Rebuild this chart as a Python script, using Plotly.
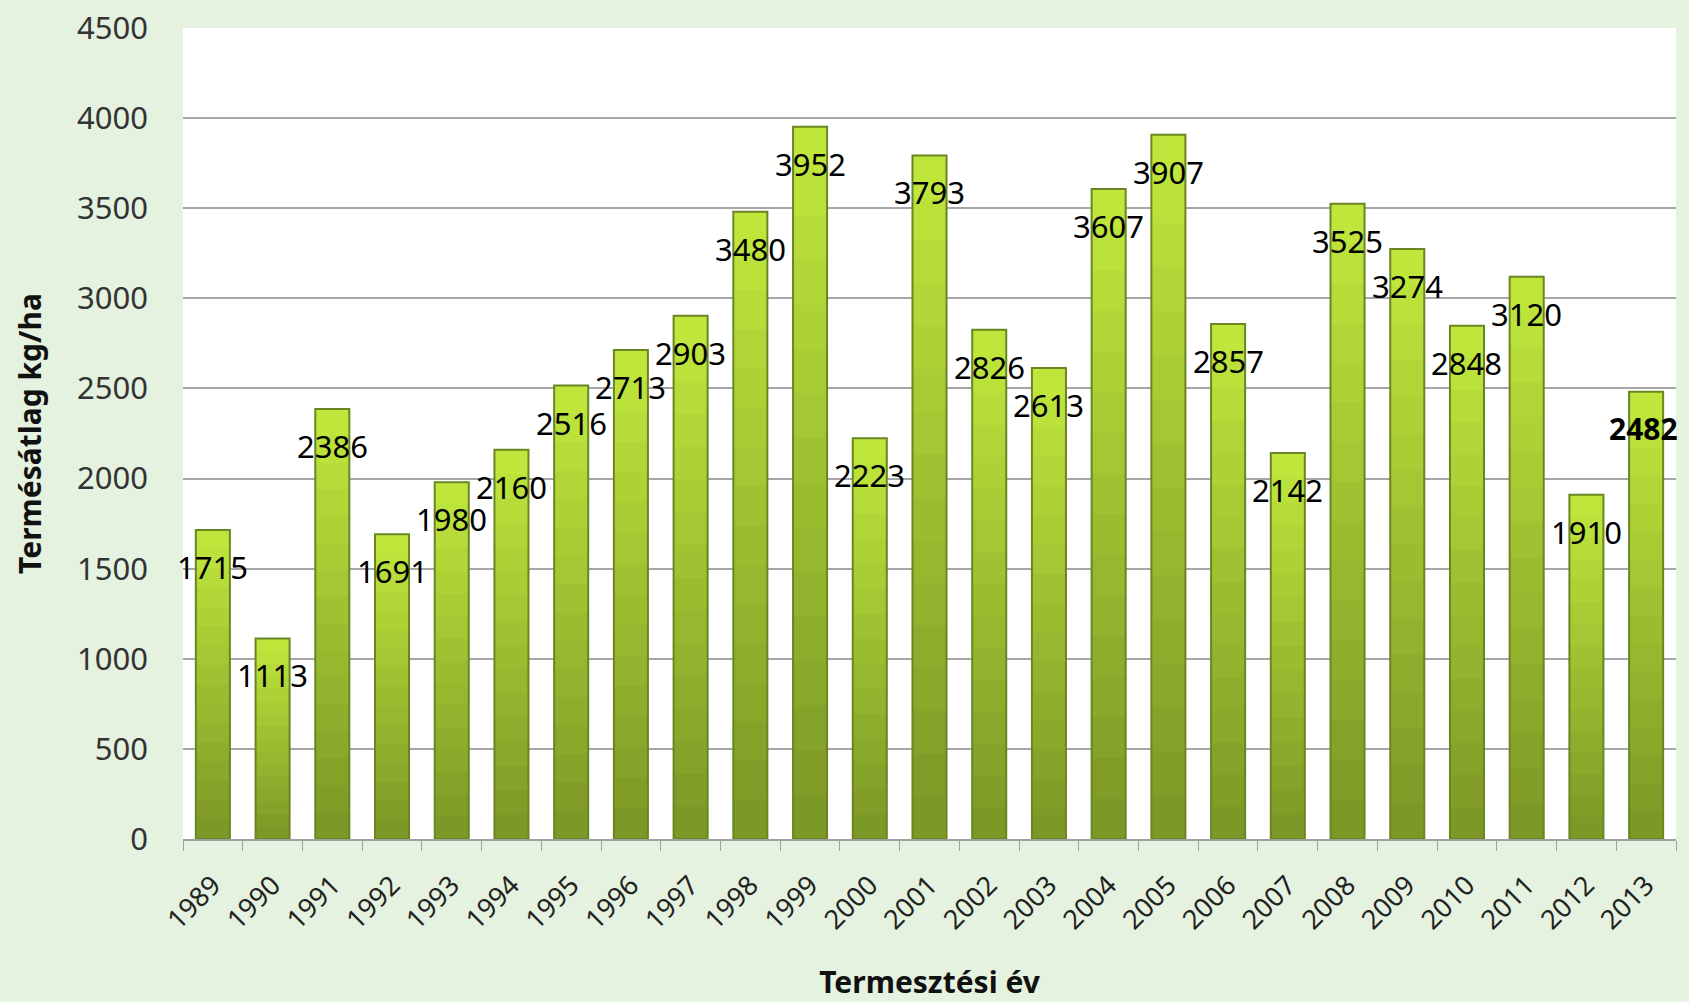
import plotly.graph_objects as go

years = [str(y) for y in range(1989, 2014)]
values = [1715, 1113, 2386, 1691, 1980, 2160, 2516, 2713, 2903, 3480, 3952, 2223,
          3793, 2826, 2613, 3607, 3907, 2857, 2142, 3525, 3274, 2848, 3120, 1910, 2482]
y_ticks = [0, 500, 1000, 1500, 2000, 2500, 3000, 3500, 4000, 4500]

FONT = "Noto Sans"
top_rgb = (192, 230, 60)
bot_rgb = (124, 152, 38)
N = 16

fig = go.Figure()
for k in range(N):
    t = k / (N - 1)
    c = tuple(int(round(top_rgb[i] + (bot_rgb[i] - top_rgb[i]) * t)) for i in range(3))
    frac = 1 - k / N
    fig.add_trace(go.Bar(
        x=years, y=[v * frac for v in values],
        marker=dict(color="rgb(%d,%d,%d)" % c, line=dict(width=0)),
        showlegend=False, hoverinfo="skip"))
# outline trace
fig.add_trace(go.Bar(
    x=years, y=values,
    marker=dict(color="rgba(0,0,0,0)", line=dict(color="#6A8622", width=2)),
    showlegend=False))

for i, v in enumerate(values):
    last = i == len(values) - 1
    fig.add_annotation(
        x=i, y=v, text=("<b>%d</b>" % v) if last else str(v),
        showarrow=False, yshift=-37, xshift=-3 if last else 0,
        yanchor="middle", xanchor="center",
        font=dict(family=FONT, size=30 if last else 31, color="#000000"))

fig.update_layout(
    width=1689, height=1002,
    margin=dict(l=183, r=13, t=28, b=163),
    paper_bgcolor="#E5F2DF", plot_bgcolor="#FFFFFF",
    barmode="overlay", bargap=0.43,
    font=dict(family=FONT, color="#222222"),
    xaxis=dict(
        type="category", range=[-0.5, len(years) - 0.5],
        tickangle=-45, tickson="boundaries",
        ticks="outside", ticklen=10, tickcolor="#A0A0A0",
        showline=True, linecolor="#A0A0A0", linewidth=1.5,
        showgrid=False, automargin=False,
        ticklabelstandoff=18,
        tickfont=dict(family=FONT, size=27, color="#222222"),
        title=dict(text="<b>Termesztési év</b>", standoff=42,
                   font=dict(family=FONT, size=30, color="#111111"))),
    yaxis=dict(
        range=[0, 4500], tickvals=y_ticks, showgrid=True,
        gridcolor="#A6A6A6", gridwidth=1.5, zeroline=False,
        showline=False, ticks="", automargin=False,
        ticklabelstandoff=34,
        tickfont=dict(family=FONT, size=31, color="#333333"),
        title=dict(text="<b>Termésátlag kg/ha</b>", standoff=26,
                   font=dict(family=FONT, size=30, color="#111111"))),
)

fig.write_html("out.html", config={"displayModeBar": False},
               post_script="document.body.style.margin='0';document.body.style.padding='0';")
